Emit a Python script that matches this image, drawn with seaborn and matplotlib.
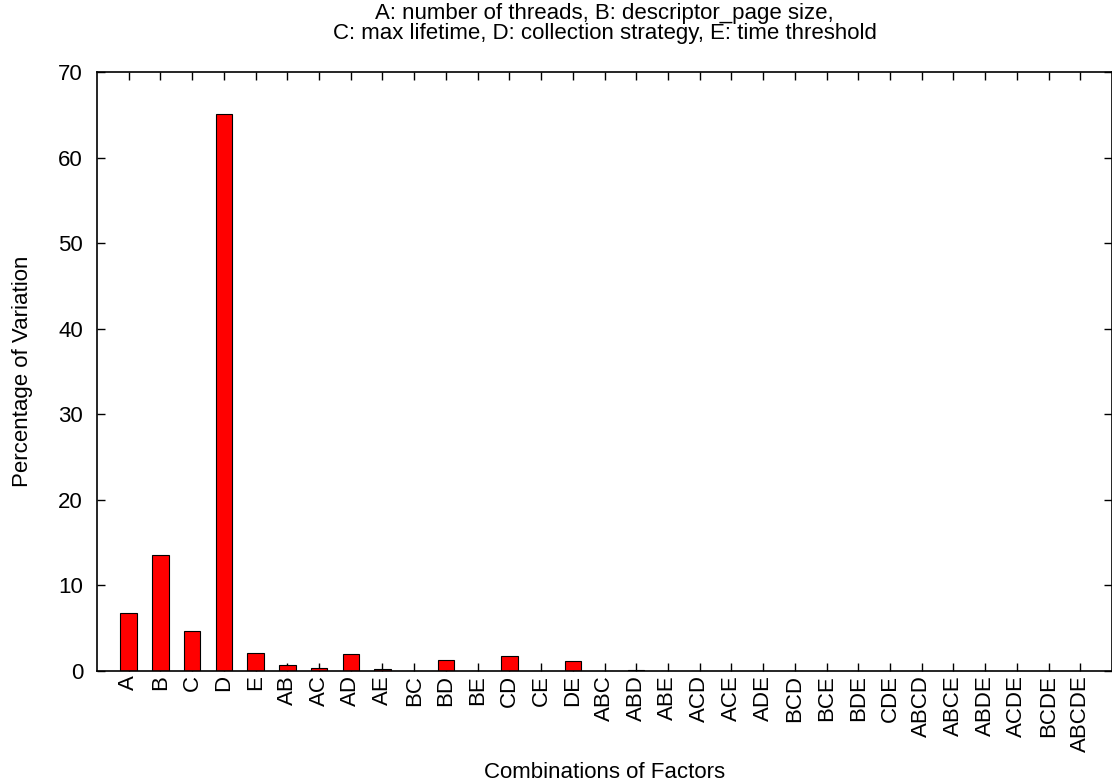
import matplotlib
matplotlib.use("Agg")
import matplotlib.pyplot as plt
import seaborn as sns
import pandas as pd

# ==================== ДАННЫЕ ====================
factors = ["A", "B", "C", "D", "E",
           "AB", "AC", "AD", "AE", "BC", "BD", "BE", "CD", "CE", "DE",
           "ABC", "ABD", "ABE", "ACD", "ACE", "ADE", "BCD", "BCE", "BDE", "CDE",
           "ABCD", "ABCE", "ABDE", "ACDE", "BCDE", "ABCDE"]
variation = [6.8, 13.5, 4.7, 65.1, 2.1,
             0.7, 0.3, 2.0, 0.2, 0.0, 1.3, 0.0, 1.7, 0.03, 1.2,
             0.0, 0.1, 0.01, 0.01, 0.02, 0.02, 0.01, 0.01, 0.02, 0.01,
             0.01, 0.01, 0.01, 0.01, 0.01, 0.01]
y_ticks = [0, 10, 20, 30, 40, 50, 60, 70]

df = pd.DataFrame({"factor": factors, "variation": variation})

# ==================== СТИЛЬ ====================
sns.set_style("ticks")
plt.rcParams['font.family'] = ['Liberation Sans', 'DejaVu Sans']
plt.rcParams['text.color'] = 'black'
plt.rcParams['axes.labelcolor'] = 'black'
plt.rcParams['xtick.color'] = 'black'
plt.rcParams['ytick.color'] = 'black'
FS = 16

fig = plt.figure(figsize=(11.12, 7.84), dpi=100)
ax = fig.add_axes([97 / 1112, 1 - 671 / 784, 1015 / 1112, 599 / 784])

sns.barplot(data=df, x="factor", y="variation", color="#ff0000",
            saturation=1, width=0.52, edgecolor="black", linewidth=0.8, ax=ax)

ax.set_xlim(-1, 31)
ax.set_ylim(0, 70)
ax.set_yticks(y_ticks)
ax.tick_params(axis="both", direction="in", length=6, width=1, color="black",
               top=True, right=True, labelsize=FS, labelcolor="black")
ax.tick_params(axis="x", rotation=90, pad=3)
ax.tick_params(axis="y", pad=10)
for side in ["top", "bottom", "left", "right"]:
    ax.spines[side].set_visible(True)
    ax.spines[side].set_linewidth(1.2)
    ax.spines[side].set_color("black")

ax.set_xlabel("Combinations of Factors", fontsize=FS, labelpad=7)
ax.set_ylabel("Percentage of Variation", fontsize=FS, labelpad=18)
ax.set_title("A: number of threads, B: descriptor_page size,\n"
             "C: max lifetime, D: collection strategy, E: time threshold",
             fontsize=FS, pad=24, linespacing=0.9)

fig.savefig("out.png", dpi=100)
